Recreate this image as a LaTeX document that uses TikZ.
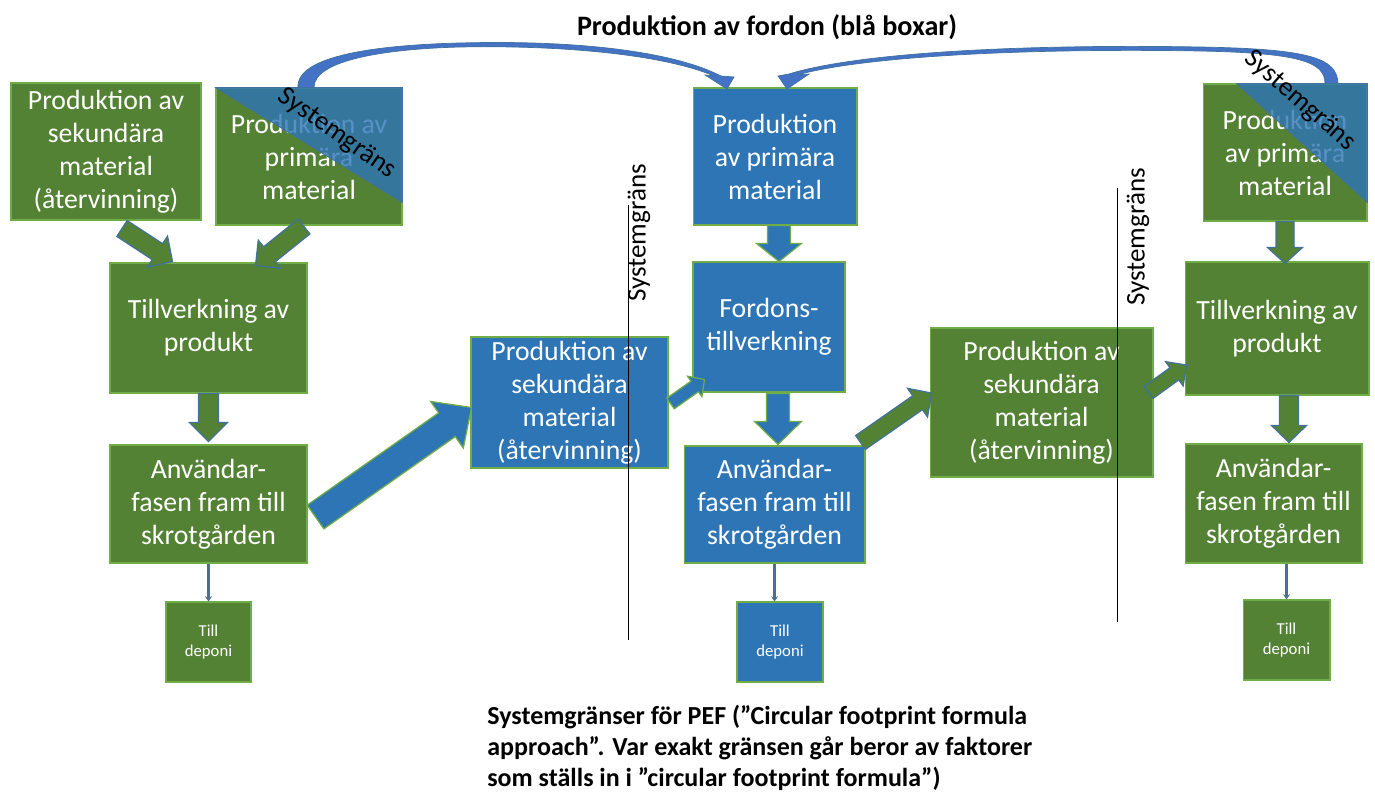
\documentclass[tikz,border=0pt]{standalone}
\usepackage{fontspec}
\setmainfont{Carlito}
\usetikzlibrary{arrows.meta,calc}
\definecolor{pgreen}{HTML}{548235}
\definecolor{pblue}{HTML}{2E75B6}
\definecolor{edgegreen}{HTML}{70AD47}
\definecolor{edgeblue}{HTML}{41719C}
\definecolor{curveblue}{HTML}{4472C4}
\definecolor{lineblue}{HTML}{4F6D8F}
\tikzset{
  box/.style={draw=edgegreen, line width=0.6pt, text=white, align=center, inner sep=0pt,
    font=\fontsize{15.8}{18.8}\selectfont},
  greenbox/.style={box, fill=pgreen},
  bluebox/.style={box, fill=pblue},
  smallbox/.style={font=\fontsize{9.5}{11.5}\selectfont, minimum width=1.72cm, minimum height=1.6cm},
  greenarr/.style={fill=pgreen, draw=edgeblue, line width=0.7pt},
  bluearr/.style={fill=pblue, draw=edgegreen, line width=0.7pt},
  depline/.style={draw=lineblue, line width=1.6pt, -{Stealth[length=3pt,width=4pt]}},
  granstext/.style={font=\fontsize{15.4}{18}\selectfont},
  gransline/.style={draw=black, line width=0.5pt},
  corner/.style={fill=pblue, fill opacity=0.8, draw=edgeblue, line width=0.5pt},
  bow/.style={fill=curveblue, draw=edgeblue, line width=0.4pt},
}
% block arrow: [style]{from}{to}{shaft}{head}{head length}, sizes in px
\newcommand{\blockarrow}[6][]{%
  \pgfmathsetmacro\arrS{#4*0.01}%
  \pgfmathsetmacro\arrH{#5*0.01}%
  \pgfmathsetmacro\arrL{#6*0.02}%
  \coordinate (ba-s) at (#2);
  \coordinate (ba-e) at (#3);
  \coordinate (ba-c) at ($(ba-e)!\arrL cm!(ba-s)$);
  \draw[#1] ($(ba-s)!\arrS cm!90:(ba-e)$) -- ($(ba-c)!\arrS cm!90:(ba-e)$)
    -- ($(ba-c)!\arrH cm!90:(ba-e)$) -- (ba-e) -- ($(ba-c)!\arrH cm!-90:(ba-e)$)
    -- ($(ba-c)!\arrS cm!-90:(ba-e)$) -- ($(ba-s)!\arrS cm!-90:(ba-e)$) -- cycle;}
\begin{document}
\begin{tikzpicture}[x=0.02cm, y=-0.02cm]
\useasboundingbox (0,0) rectangle (1375,794);

\node[font=\bfseries\fontsize{16}{19}\selectfont] (titel) at (767,27) {Produktion av fordon (blå boxar)};

% left column
\node[greenbox, minimum width=3.8cm, minimum height=2.74cm] (sek1) at (106,151.5) {Produktion av\\sekundära\\material\\(återvinning)};
\node[greenbox, minimum width=3.72cm, minimum height=2.74cm] (prim1) at (309,156.5) {Produktion av\\primära\\material};
\node[greenbox, minimum width=3.94cm, minimum height=2.6cm] (till1) at (208.5,328) {Tillverkning av\\produkt};
\node[greenbox, minimum width=3.94cm, minimum height=2.36cm] (anv1) at (208.5,504) {Användar-\\fasen fram till\\skrotgården};
\node[greenbox, smallbox, minimum width=1.7cm] (dep1) at (208.5,642) {Till\\deponi};

% middle column
\node[bluebox, minimum width=3.94cm, minimum height=2.62cm] (sek2) at (569.5,402.5) {Produktion av\\sekundära\\material\\(återvinning)};
\node[bluebox, minimum width=3.28cm, minimum height=2.74cm] (prim2) at (775,156.5) {Produktion\\av primära\\material};
\node[bluebox, minimum width=3.04cm, minimum height=2.6cm] (ford) at (769,327) {Fordons-\\tillverkning};
\node[bluebox, minimum width=3.62cm, minimum height=2.34cm] (anv2) at (774.5,504.5) {Användar-\\fasen fram till\\skrotgården};
\node[bluebox, smallbox] (dep2) at (780,642) {Till\\deponi};

% right column
\node[greenbox, minimum width=4.46cm, minimum height=2.98cm] (sek3) at (1041.5,402.5) {Produktion av\\sekundära\\material\\(återvinning)};
\node[greenbox, minimum width=3.28cm, minimum height=2.74cm] (prim3) at (1285,152.5) {Produktion\\av primära\\material};
\node[greenbox, minimum width=3.68cm, minimum height=2.66cm] (till3) at (1277,328.5) {Tillverkning av\\produkt};
\node[greenbox, minimum width=3.54cm, minimum height=2.38cm] (anv3) at (1273.5,503.5) {Användar-\\fasen fram till\\skrotgården};
\node[greenbox, smallbox, minimum width=1.74cm] (dep3) at (1286.5,640) {Till\\deponi};

% blue corners
\draw[corner] (prim1.north west) -- (prim1.north east) -- ($(prim1.north east)+(0,115)$) -- cycle;
\draw[corner] ($(prim3.north west)+(34,0)$) -- (prim3.north east) -- ($(prim3.north east)+(0,119)$) -- cycle;

% curved arrows on top
\draw[bow] ($(prim1.north)+(-11,0)$) .. controls (296,55) and (380,45) .. (460,43)
  .. controls (570,40) and (670,50) .. (721,76) -- (734,77) -- (727,89) -- (705,75) -- (714,76)
  .. controls (665,55) and (565,45) .. (460,47) .. controls (385,49) and (314,60) .. ($(prim1.north)+(5,0)$) -- cycle;
\draw[bow] ($(prim3.north)+(53,0)$) .. controls (1337,58) and (1310,49) .. (1200,47)
  .. controls (1030,44) and (860,52) .. (789,74) -- (778,76) -- (787,89) -- (809,74) -- (797,75)
  .. controls (865,56) and (1030,48) .. (1200,51) .. controls (1300,53) and (1325,62) .. ($(prim3.north)+(40,0)$) -- cycle;

\node[granstext, rotate=-35] (diag1) at (337,134) {Systemgräns};
\node[granstext, rotate=-41] (diag3) at (1300,101) {Systemgräns};

% block arrows
\blockarrow[greenarr]{$(sek1.south)+(16,8)$}{$(till1.north west)+(63,-1)$}{19}{37}{18}
\blockarrow[greenarr]{$(prim1.south)+(-5,1)$}{$(till1.north east)+(-52,3)$}{19}{36}{18}
\blockarrow[greenarr]{till1.south}{$(anv1.north)+(0,-3)$}{20}{38}{19}
\blockarrow[bluearr]{$(anv1.east)+(8,13)$}{$(sek2.west)+(1,5)$}{29}{57}{30}
\blockarrow[bluearr]{$(sek2.east)+(2,1)$}{$(ford.south west)+(12,-13)$}{13}{25}{12}
\blockarrow[bluearr]{$(prim2.south)+(4,0)$}{$(ford.north)+(10,0)$}{23}{45}{18}
\blockarrow[bluearr]{$(ford.south)+(9,1)$}{$(anv2.north)+(3.5,-1)$}{23}{47}{23}
\blockarrow[greenarr]{$(anv2.north east)+(-5,-3)$}{$(sek3.west)+(2,-9.5)$}{17}{35}{17}
\blockarrow[greenarr]{$(sek3.east)+(-5,-10)$}{$(till3.west)+(2,36.5)$}{15}{30}{15}
\blockarrow[greenarr]{prim3.south}{$(till3.north)+(8,2)$}{18}{35}{16}
\blockarrow[greenarr]{$(till3.south)+(12,0)$}{$(anv3.north)+(15.5,-1)$}{19}{35}{17}

% to landfill
\draw[depline] (anv1.south) -- (dep1.north);
\draw[depline] (anv2.south) -- (anv2.south |- dep2.north);
\draw[depline] (dep3.north |- anv3.south) -- (dep3.north);

% system boundaries
\draw[gransline] (628,205) -- (628,640);
\node[granstext, rotate=90] (grans1) at (639,233) {Systemgräns};
\draw[gransline] (1117,188) -- (1117,622);
\node[granstext, rotate=90] (grans2) at (1138,237) {Systemgräns};

\node[anchor=west, align=left, inner sep=0pt, font=\bfseries\fontsize{14.8}{17.6}\selectfont] (pef) at (487,748)
  {Systemgränser för PEF (”Circular footprint formula\\approach”. Var exakt gränsen går beror av faktorer\\som ställs in i ”circular footprint formula”)};
\end{tikzpicture}
\end{document}
